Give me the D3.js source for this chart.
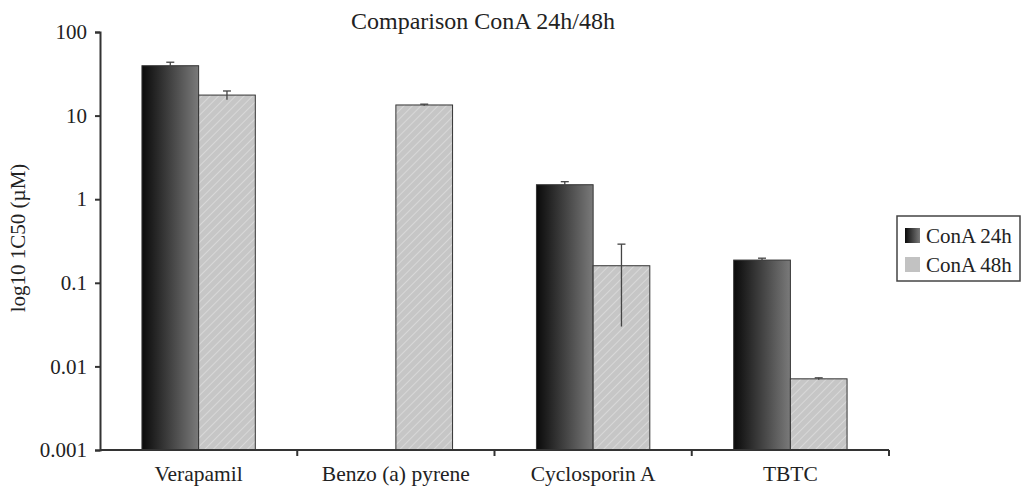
<!DOCTYPE html>
<html>
<head>
<meta charset="utf-8">
<script src="https://cdn.jsdelivr.net/npm/d3@7"></script>
<style>
  body { margin: 0; background: #fff; }
  svg text { font-family: "Liberation Serif", "DejaVu Serif", serif; fill: #222; }
</style>
</head>
<body>
<svg id="chart" width="1021" height="489"></svg>
<script>
// values
var categories = ["Verapamil", "Benzo (a) pyrene", "Cyclosporin A", "TBTC"];
var series = ["ConA 24h", "ConA 48h"];
var con24 = [39.5, null, 1.49, 0.187];
var con24err = [4.0, null, 0.13, 0.01];
var con48 = [17.6, 13.4, 0.16, 0.0071];
var con48err = [2.1, 0.3, 0.13, 0.0002];
var yTicks = [0.001, 0.01, 0.1, 1, 10, 100];

var svg = d3.select("#chart");
var defs = svg.append("defs");

var grad = defs.append("linearGradient")
    .attr("id", "dark")
    .attr("x1", "0%").attr("x2", "100%").attr("y1", "0%").attr("y2", "0%");
grad.append("stop").attr("offset", "0%").attr("stop-color", "#0a0a0a");
grad.append("stop").attr("offset", "100%").attr("stop-color", "#7a7a7a");

var pat = defs.append("pattern")
    .attr("id", "hatch")
    .attr("patternUnits", "userSpaceOnUse")
    .attr("width", 6).attr("height", 6)
    .attr("patternTransform", "rotate(45)");
pat.append("rect").attr("width", 6).attr("height", 6).attr("fill", "#c6c6c6");
pat.append("line")
    .attr("x1", 0).attr("y1", 0).attr("x2", 0).attr("y2", 6)
    .attr("stroke", "#d8d8d8").attr("stroke-width", 2);

var fills = ["url(#dark)", "url(#hatch)"];
var swatchFills = ["url(#dark)", "#c2c2c2"];

var x = d3.scaleBand()
    .domain(categories)
    .range([100, 889])
    .padding(0);

var xs = d3.scaleBand()
    .domain(series)
    .range([0, x.bandwidth()])
    .paddingInner(0)
    .paddingOuter(0.74);

var y = d3.scaleLog()
    .domain([0.001, 100])
    .range([450, 32]);

// bars
var rows = [];
categories.forEach(function(c, i) {
  if (con24[i] != null) rows.push({cat: c, s: 0, v: con24[i], e: con24err[i]});
  if (con48[i] != null) rows.push({cat: c, s: 1, v: con48[i], e: con48err[i]});
});

var g = svg.append("g");

g.selectAll("rect.bar")
    .data(rows)
  .enter().append("rect")
    .attr("class", "bar")
    .attr("x", function(d) { return x(d.cat) + xs(series[d.s]); })
    .attr("width", xs.bandwidth())
    .attr("y", function(d) { return y(d.v); })
    .attr("height", function(d) { return y(0.001) - y(d.v); })
    .attr("fill", function(d) { return fills[d.s]; })
    .attr("stroke", "#333")
    .attr("stroke-width", 1);

// error bars (upper cap only)
var err = g.selectAll("g.err")
    .data(rows)
  .enter().append("g")
    .attr("class", "err")
    .attr("transform", function(d) {
      return "translate(" + (x(d.cat) + xs(series[d.s]) + xs.bandwidth() / 2) + ",0)";
    });
err.append("line")
    .attr("y1", function(d) { return y(d.v - d.e); })
    .attr("y2", function(d) { return y(d.v + d.e); })
    .attr("stroke", "#444").attr("stroke-width", 1.3);
err.append("line")
    .attr("x1", -4).attr("x2", 4)
    .attr("y1", function(d) { return y(d.v + d.e); })
    .attr("y2", function(d) { return y(d.v + d.e); })
    .attr("stroke", "#444").attr("stroke-width", 1.3);

// y axis
var yAxis = svg.append("g")
    .attr("transform", "translate(100,0)")
    .call(d3.axisLeft(y).tickValues(yTicks).tickFormat(function(d) { return String(d); })
      .tickSize(5).tickPadding(8));
yAxis.select(".domain").attr("stroke", "#333").attr("stroke-width", 2);
yAxis.selectAll(".tick line").attr("stroke", "#333").attr("stroke-width", 2);
yAxis.selectAll("text").style("font-size", "21px").attr("fill", "#222");

// x axis
var xAxis = svg.append("g")
    .attr("transform", "translate(0,450)");
xAxis.append("line")
    .attr("x1", 100).attr("x2", 889)
    .attr("stroke", "#333").attr("stroke-width", 2);
var bounds = categories.map(function(c) { return x(c) + x.bandwidth(); });
xAxis.selectAll("line.tk")
    .data(bounds)
  .enter().append("line")
    .attr("class", "tk")
    .attr("x1", function(d) { return d; }).attr("x2", function(d) { return d; })
    .attr("y1", 0).attr("y2", 6)
    .attr("stroke", "#333").attr("stroke-width", 2);
xAxis.selectAll("text")
    .data(categories)
  .enter().append("text")
    .attr("x", function(d) { return x(d) + x.bandwidth() / 2; })
    .attr("y", 31)
    .attr("text-anchor", "middle")
    .style("font-size", "21.5px")
    .text(function(d) { return d; });

// title
svg.append("text")
    .attr("x", 483).attr("y", 29)
    .attr("text-anchor", "middle")
    .style("font-size", "24px")
    .text("Comparison ConA 24h/48h");

// y label
svg.append("text")
    .attr("transform", "translate(25,238)rotate(-90)")
    .attr("text-anchor", "middle")
    .style("font-size", "21px")
    .text("log10 1C50 (\u00b5M)");

// legend
var leg = svg.append("g");
leg.append("rect")
    .attr("x", 897).attr("y", 216)
    .attr("width", 123).attr("height", 65)
    .attr("fill", "#fff").attr("stroke", "#444").attr("stroke-width", 1.5);
var li = leg.selectAll("g.li")
    .data(series)
  .enter().append("g")
    .attr("class", "li")
    .attr("transform", function(d, i) { return "translate(905," + (228 + i * 29) + ")"; });
li.append("rect")
    .attr("width", 15).attr("height", 15)
    .attr("fill", function(d, i) { return swatchFills[i]; });
li.append("text")
    .attr("x", 21).attr("y", 15)
    .style("font-size", "21px")
    .text(function(d) { return d; });
</script>
</body>
</html>
